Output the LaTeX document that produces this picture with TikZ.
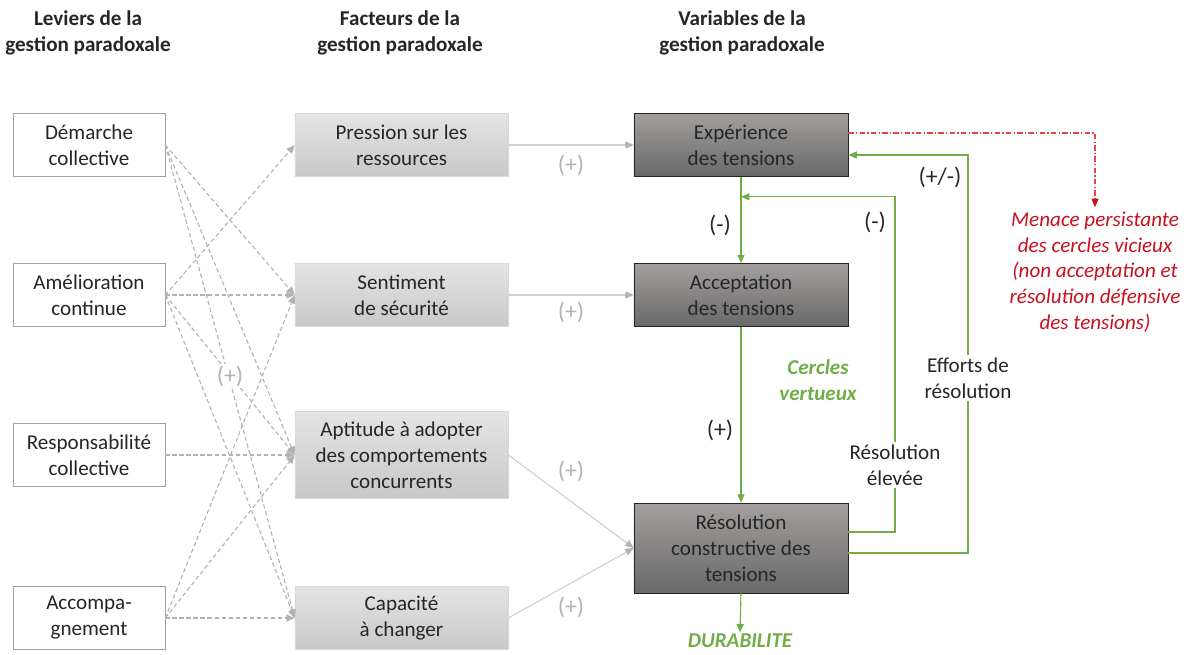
\documentclass[tikz,border=0pt]{standalone}
\usepackage{fontspec}
\setmainfont{Carlito}
\usetikzlibrary{arrows.meta,positioning,calc}
\definecolor{pgvert}{RGB}{112,173,71}
\definecolor{pgrouge}{RGB}{200,16,32}
\definecolor{pgrougeclair}{RGB}{232,70,70}
\definecolor{pggris}{RGB}{178,178,178}
\definecolor{pgclair}{RGB}{208,208,208}
\definecolor{pgtexte}{RGB}{38,38,38}
\definecolor{pgfacthaut}{RGB}{228,228,228}
\definecolor{pgfactbas}{RGB}{200,200,200}
\definecolor{pgvarhaut}{RGB}{162,159,157}
\definecolor{pgvarbas}{RGB}{105,105,105}

\begin{document}
\begin{tikzpicture}[x=0.025cm, y=-0.025cm,
  every node/.style={font=\fontsize{15}{18.5}\selectfont, text=pgtexte, align=center},
  titre/.style={font=\fontsize{15}{18.5}\selectfont\bfseries},
  levier/.style={draw=gray!75, fill=white, minimum width=3.8cm, minimum height=1.575cm},
  facteur/.style={draw=gray!30, top color=pgfacthaut, bottom color=pgfactbas, minimum width=5.325cm, minimum height=1.575cm},
  varbox/.style={draw=black!85, top color=pgvarhaut, bottom color=pgvarbas, minimum width=5.35cm, minimum height=1.575cm},
  lienlevier/.style={pggris, line width=0.8pt, dash pattern=on 3pt off 2pt, -{Triangle[length=6pt,width=5pt]}},
  lienfacteur/.style={pgclair, line width=0.8pt, -{Triangle[length=6pt,width=5pt,color=pggris]}},
  lienvert/.style={pgvert, line width=0.8pt, -{Triangle[length=6pt,width=5pt]}},
  lienrouge/.style={draw=pgrougeclair, line width=0.8pt, dash pattern=on 4pt off 1.5pt on 1pt off 1.5pt, -{Triangle[length=6pt,width=5pt,color=pgrouge]}},
  signe/.style={text=pggris, font=\fontsize{17}{20}\selectfont},
  signevert/.style={font=\fontsize{17}{20}\selectfont}
]
  \useasboundingbox (0,0) rectangle (1189,654);

  %--- titles ---
  \node[titre] (tleviers) at (88,33) {Leviers de la\\gestion paradoxale};
  \node[titre] (tfacteurs) at (400,33) {Facteurs de la\\gestion paradoxale};
  \node[titre] (tvariables) at (742,33) {Variables de la\\gestion paradoxale};

  %--- levers ---
  \node[levier] (demarche) at (89,145) {Démarche\\collective};
  \node[levier] (amelioration) at (89,295) {Amélioration\\continue};
  \node[levier] (responsab) at (89,455) {Responsabilité\\collective};
  \node[levier] (accomp) at (89,618) {Accompa-\\gnement};

  %--- factors ---
  \node[facteur] (pression) at (401.5,145) {Pression sur les\\ressources};
  \node[facteur] (securite) at (401.5,295) {Sentiment\\de sécurité};
  \node[facteur, minimum height=2.175cm] (aptitude) at (401.5,455) {Aptitude à adopter\\des comportements\\concurrents};
  \node[facteur] (capacite) at (401.5,618) {Capacité\\à changer};

  %--- variables ---
  \node[varbox] (experience) at (741,145) {Expérience\\des tensions};
  \node[varbox] (acceptation) at (741,295) {Acceptation\\des tensions};
  \node[varbox, minimum height=2.25cm] (resolution) at (741,548) {Résolution\\constructive des\\tensions};

  %--- levers to factors ---
  \foreach \a/\b in {demarche/securite, demarche/aptitude, demarche/capacite,
                     amelioration/pression, amelioration/securite, amelioration/aptitude, amelioration/capacite,
                     responsab/aptitude,
                     accomp/securite, accomp/aptitude, accomp/capacite}
    \draw[lienlevier] (\a.east) -- (\b.west);
  \node[signe, fill=white, inner sep=1pt] (plusleviers) at (230,376) {(+)};

  %--- factors to variables ---
  \draw[lienfacteur] (pression.east) -- node[signe, pos=0.5, yshift=-0.52cm] {(+)} (experience.west);
  \draw[lienfacteur] (securite.east) -- node[signe, pos=0.5, yshift=-0.44cm] {(+)} (acceptation.west);
  \draw[lienfacteur] (aptitude.east) -- node[signe, pos=0.5, yshift=0.74cm] {(+)} (resolution.west);
  \draw[lienfacteur] (capacite.east) -- node[signe, pos=0.5, yshift=-0.62cm] {(+)} (resolution.west);

  %--- virtuous circles ---
  \draw[lienvert] (experience.south) -- (acceptation.north);
  \node[signevert] (moinsA) at (720,225) {(-)};
  \draw[lienvert] (acceptation.south) -- (resolution.north);
  \node[signevert] (plusA) at (720,430) {(+)};
  \node[text=pgvert, font=\fontsize{15}{18.5}\selectfont\bfseries\itshape, inner sep=1pt] (durabilite) at (740,641) {DURABILITE};
  \draw[lienvert] (resolution.south) -- (durabilite.north);
  \node[text=pgvert, font=\fontsize{15}{18.5}\selectfont\bfseries\itshape] (cercles) at (818,380) {Cercles\\vertueux};

  \coordinate (boucleA) at (895,532);
  \coordinate (boucleB) at (968,553);
  \draw[lienvert] (resolution.east |- boucleA) -- (boucleA) |- ($(experience.south)+(0,20)$)
    node[pos=0.1, fill=white, inner sep=2pt] (elevee) {Résolution\\élevée};
  \node[signevert] (moinsB) at (875,222) {(-)};
  \draw[lienvert] (resolution.east |- boucleB) -- (boucleB) |- ($(experience.east)+(0,10)$)
    node[pos=0.22, fill=white, inner sep=2pt] (efforts) {Efforts de\\résolution};
  \node[signevert] (plusmoins) at (940,177) {(+/-)};

  %--- vicious circles ---
  \node[text=pgrouge, font=\fontsize{15}{18.2}\selectfont\itshape] (menace) at (1095,272) {Menace persistante\\des cercles vicieux\\(non acceptation et\\résolution défensive\\des tensions)};
  \coordinate (rougeCoin) at (1095,133);
  \draw[lienrouge] (experience.east |- rougeCoin) -| (menace.north);
\end{tikzpicture}
\end{document}
